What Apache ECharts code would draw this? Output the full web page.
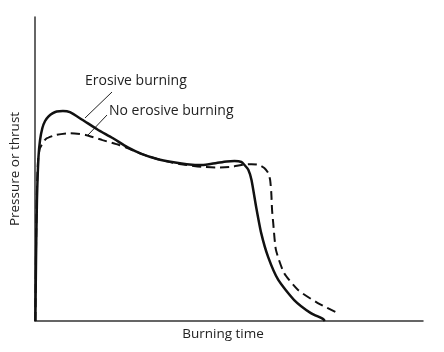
<!DOCTYPE html>
<html>
<head>
<meta charset="utf-8">
<script src="https://cdn.jsdelivr.net/npm/echarts@6/dist/echarts.min.js"></script>
<style>
  html, body { margin: 0; padding: 0; background: #fff; }
  #chart { width: 444px; height: 352px; }
</style>
</head>
<body>
<div id="chart"></div>
<script>
// burning time (0..100) and pressure (0..100)
const erosiveTime = [0.1, 0.26, 0.5, 0.9, 1.3, 1.9, 2.6, 3.5, 4.5, 5.6, 7.2, 9.0, 12.3, 16.1, 20.0, 23.8, 27.6, 31.5, 35.3, 39.1, 43.0, 46.8, 49.4, 51.4, 53.2, 54.0, 55.0, 55.8, 57.0, 58.3, 60.1, 62.7, 66.8, 71.1, 74.2, 74.7]
const erosivePressure = [0, 20, 39.8, 54, 59.5, 63.5, 65.8, 67.3, 68.3, 68.9, 69.1, 68.7, 66.1, 63.0, 60.2, 57.2, 54.9, 53.3, 52.3, 51.6, 51.3, 52.0, 52.5, 52.6, 52.3, 51.3, 49.7, 46.4, 37.5, 28.9, 21.0, 13.5, 6.9, 2.6, 0.7, 0]

const normalTime = [0.1, 0.26, 0.5, 0.8, 1.3, 2.8, 5.4, 9.0, 13.0, 17.4, 21.7, 23.8, 27.6, 31.5, 35.3, 39.1, 43.0, 46.8, 50.6, 53.2, 55.8, 57.8, 59.1, 60.1, 60.6, 60.9, 61.1, 61.4, 62.1, 64.2, 67.8, 72.9, 78.0]
const normalPressure = [0, 23.4, 43.1, 53, 56.9, 59.9, 61.2, 61.8, 61.2, 59.5, 57.9, 56.9, 54.9, 53.3, 52.1, 51.3, 50.7, 50.5, 50.7, 51.3, 51.6, 51.3, 50.3, 48.7, 46.4, 42.1, 36.5, 32.2, 23.4, 15.8, 10.2, 5.9, 2.6]

const zip = (xs, ys) => xs.map((x, i) => [x, ys[i]])

const chart = echarts.init(document.getElementById('chart'))
const font = 'Open Sans'
chart.setOption({
  animation: false,
  grid: { left: 32, right: 21, top: 17, bottom: 31 },
  xAxis: {
    type: 'value', min: 0, max: 100,
    axisLine: { show: true, lineStyle: { color: '#333', width: 1.5 } },
    axisTick: { show: false }, axisLabel: { show: false }, splitLine: { show: false }
  },
  yAxis: {
    type: 'value', min: 0, max: 100,
    name: 'Pressure or thrust', nameLocation: 'middle', nameGap: 13,
    nameTextStyle: { color: '#222', fontSize: 13.5, fontFamily: font },
    axisLine: { show: true, lineStyle: { color: '#333', width: 1.5 } },
    axisTick: { show: false }, axisLabel: { show: false }, splitLine: { show: false }
  },
  series: [
    {
      name: 'No erosive burning', type: 'line', data: zip(normalTime, normalPressure),
      showSymbol: false, smooth: 0.2,
      lineStyle: { color: '#111', width: 2, type: [9, 5] }
    },
    {
      name: 'Erosive burning', type: 'line', data: zip(erosiveTime, erosivePressure),
      showSymbol: false, smooth: 0.2,
      lineStyle: { color: '#111', width: 2.5 }
    }
  ],
  graphic: [
    { type: 'text', x: 223, y: 334, style: { text: 'Burning time', fontSize: 13.5, fontFamily: font, fill: '#222', align: 'center', verticalAlign: 'middle' } },
    { type: 'text', x: 85, y: 81, style: { text: 'Erosive burning', fontSize: 14, fontFamily: font, fill: '#222', verticalAlign: 'middle' } },
    { type: 'text', x: 109, y: 111, style: { text: 'No erosive burning', fontSize: 14, fontFamily: font, fill: '#222', verticalAlign: 'middle' } },
    { type: 'line', shape: { x1: 112, y1: 92, x2: 85, y2: 118 }, style: { stroke: '#222', lineWidth: 1 } },
    { type: 'line', shape: { x1: 107, y1: 115, x2: 88, y2: 135 }, style: { stroke: '#222', lineWidth: 1 } }
  ]
})
</script>
</body>
</html>
